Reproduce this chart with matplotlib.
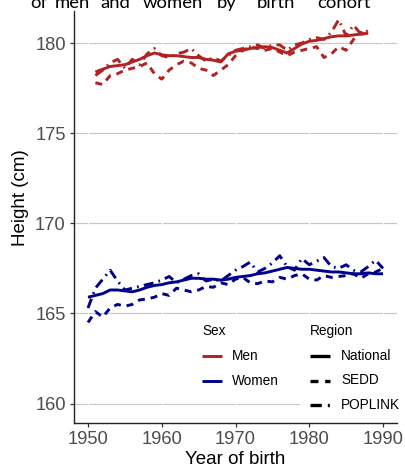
import matplotlib
matplotlib.use("Agg")
import matplotlib.pyplot as plt
from matplotlib.lines import Line2D
from matplotlib.patches import Rectangle

# ---------------- data ----------------
men_years = list(range(1951, 1989))
women_years = list(range(1950, 1991))

men_national = [178.40, 178.55, 178.70, 178.75, 178.80, 178.95, 179.10, 179.30, 179.45, 179.35,
                179.30, 179.30, 179.25, 179.20, 179.20, 179.10, 179.05, 178.95, 179.40, 179.55,
                179.60, 179.70, 179.75, 179.80, 179.75, 179.60, 179.45, 179.70, 179.95, 180.10,
                180.15, 180.25, 180.35, 180.40, 180.40, 180.45, 180.50, 180.55]
men_sedd = [177.8, 177.7, 178.2, 178.3, 178.5, 178.6, 178.7, 178.9, 178.3, 178.0,
            178.5, 178.8, 179.0, 178.9, 178.6, 178.5, 178.2, 178.5, 178.8, 179.3,
            179.6, 179.8, 179.7, 179.6, 179.7, 179.5, 179.3, 179.5, 179.6, 179.7,
            179.8, 179.2, 179.4, 179.8, 179.6, 180.2, 180.6, 180.3]
men_poplink = [178.2, 178.5, 178.9, 179.1, 178.6, 179.1, 178.8, 179.4, 179.7, 179.3,
               179.2, 179.4, 179.5, 179.7, 179.3, 179.0, 179.2, 179.0, 179.3, 179.6,
               179.7, 179.8, 179.9, 179.7, 179.9, 179.9, 179.6, 179.9, 180.0, 180.2,
               180.3, 180.2, 180.6, 181.3, 180.4, 181.0, 180.5, 180.7]

women_national = [165.9, 166.0, 166.1, 166.3, 166.3, 166.25, 166.2, 166.3, 166.45, 166.55,
                  166.6, 166.7, 166.75, 166.85, 166.95, 166.95, 166.9, 166.9, 166.85, 166.9,
                  167.0, 167.05, 167.1, 167.2, 167.25, 167.35, 167.45, 167.55, 167.5, 167.45,
                  167.45, 167.4, 167.35, 167.3, 167.3, 167.25, 167.2, 167.2, 167.25, 167.2,
                  167.2]
women_sedd = [164.5, 165.1, 164.8, 165.3, 165.5, 165.4, 165.5, 165.75, 165.8, 165.9,
              166.1, 166.0, 166.4, 166.3, 166.2, 166.3, 166.5, 166.45, 166.7, 166.6,
              166.9, 167.0, 166.7, 166.65, 166.8, 166.75, 167.0, 166.9, 167.1, 167.2,
              166.9, 166.85, 167.1, 167.0, 167.05, 167.1, 167.2, 166.95, 167.2, 167.3,
              167.5]
women_poplink = [165.3, 166.4, 166.9, 167.4, 166.8, 166.3, 166.4, 166.5, 166.6, 166.7,
                 166.85, 167.05, 166.7, 166.9, 167.1, 167.2, 166.8, 166.9, 166.8, 167.1,
                 167.4, 167.6, 167.85, 167.3, 167.5, 167.8, 168.2, 167.6, 167.4, 168.05,
                 167.7, 167.9, 168.1, 167.6, 167.5, 167.7, 167.4, 167.3, 167.6, 167.95,
                 167.5]

x_ticks = [1950, 1960, 1970, 1980, 1990]
y_ticks = [160, 165, 170, 175, 180]
sex_labels = ["Men", "Women"]
region_labels = ["National", "SEDD", "POPLINK"]
title_words = ["of", "men", "and", "women", "by", "birth", "cohort"]

# ---------------- style ----------------
MEN = "#B22222"
WOMEN = "#00008B"
LW = 2.1
STYLES = {"National": "-", "SEDD": (0, (2.4, 2.0)), "POPLINK": (0, (3.4, 1.8, 0.6, 1.8))}
FONT = "Liberation Sans"

W, H = 406, 468
fig = plt.figure(figsize=(W / 100, H / 100), dpi=100)


def fx(px):
    return px / W


def fy(py):
    return 1 - py / H


ax_l, ax_r, ax_t, ax_b = 74, 397, 11, 423
ax = fig.add_axes([fx(ax_l), fy(ax_b), (ax_r - ax_l) / W, (ax_b - ax_t) / H])
ax.set_xlim(1948.1, 1991.9)
ax.set_ylim(158.92, 181.78)

for s in ["top", "right"]:
    ax.spines[s].set_visible(False)
for s in ["left", "bottom"]:
    ax.spines[s].set_color("#222222")
    ax.spines[s].set_linewidth(1.0)

ax.set_xticks(x_ticks)
ax.set_yticks(y_ticks)
ax.tick_params(axis="both", length=3, width=0.9, color="#333333",
               labelsize=13.2, labelcolor="#4D4D4D", pad=3)
for lab in ax.get_xticklabels() + ax.get_yticklabels():
    lab.set_family(FONT)

for yv in y_ticks:
    ax.axhline(yv, color="#C8C8C8", lw=0.9, zorder=0.5)
for xv in x_ticks:
    ax.axvline(xv, color="white", lw=0.8, zorder=0.6)

series = [
    (men_years, men_sedd, MEN, "SEDD"),
    (men_years, men_poplink, MEN, "POPLINK"),
    (men_years, men_national, MEN, "National"),
    (women_years, women_sedd, WOMEN, "SEDD"),
    (women_years, women_poplink, WOMEN, "POPLINK"),
    (women_years, women_national, WOMEN, "National"),
]
for xs, ys, c, reg in series:
    ax.plot(xs, ys, color=c, lw=LW, linestyle=STYLES[reg], zorder=2,
            solid_capstyle="butt", dash_capstyle="butt")

ax.set_xlabel("Year of birth", fontsize=13.5, family=FONT, color="black", labelpad=2)
ax.set_ylabel("Height (cm)", fontsize=13.5, family=FONT, color="black")
ax.yaxis.label.set_va("center")
ax.yaxis.set_label_coords((21 - ax_l) / (ax_r - ax_l), (ax_b - 198) / (ax_b - ax_t))

# ---------------- legends (drawn in pixel layout) ----------------
fig.add_artist(Rectangle((fx(193), fy(392)), (300 - 193) / W, (392 - 319) / H,
                         facecolor="white", edgecolor="none", transform=fig.transFigure, zorder=3))
fig.add_artist(Rectangle((fx(300), fy(416)), (397 - 300) / W, (416 - 319) / H,
                         facecolor="white", edgecolor="none", transform=fig.transFigure, zorder=3))

LFS = 9.8
fig.text(fx(202), fy(331), "Sex", fontsize=LFS, family=FONT, va="center", ha="left", zorder=4)
fig.text(fx(310), fy(331), "Region", fontsize=LFS, family=FONT, va="center", ha="left", zorder=4)
for i, (lab, c) in enumerate(zip(sex_labels, [MEN, WOMEN])):
    yy = 356 + 25 * i
    fig.add_artist(Line2D([fx(202), fx(222)], [fy(yy), fy(yy)], color=c, lw=LW,
                          solid_capstyle="butt", transform=fig.transFigure, zorder=4))
    fig.text(fx(232), fy(yy), lab, fontsize=LFS, family=FONT, va="center", ha="left", zorder=4)
for i, lab in enumerate(region_labels):
    yy = 356 + 24.5 * i
    fig.add_artist(Line2D([fx(310), fx(330)], [fy(yy), fy(yy)], color="black", lw=LW + 0.3,
                          linestyle=STYLES[lab], solid_capstyle="butt", dash_capstyle="butt",
                          transform=fig.transFigure, zorder=4))
    fig.text(fx(341), fy(yy), lab, fontsize=LFS, family=FONT, va="center", ha="left", zorder=4)

# ---------------- cropped caption text at the top ----------------
word_x = [30, 55, 100, 143, 217, 257, 317]
for w, px in zip(title_words, word_x):
    fig.text(fx(px), fy(8), w, fontsize=13.3, family="Lato", va="baseline", ha="left")

fig.savefig("out.png", dpi=100)
